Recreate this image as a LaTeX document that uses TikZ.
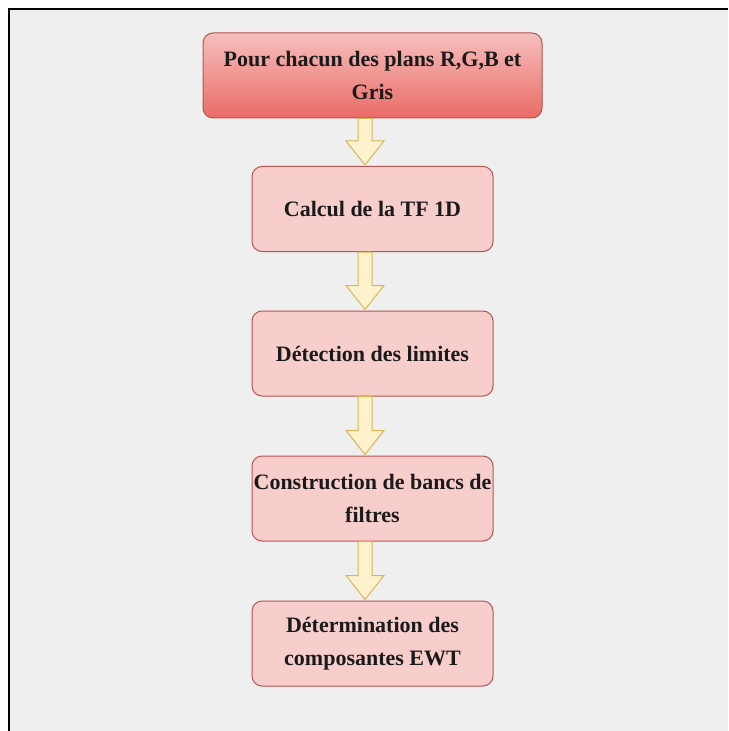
\documentclass[tikz,border=0pt]{standalone}
\usepackage{fontspec}
\setmainfont{Liberation Serif}
\usepackage{xcolor}
\usepackage{tikz}
\usetikzlibrary{calc,positioning}
\definecolor{pagebg}{HTML}{EFEFEF}
\definecolor{pinkx}{HTML}{F8CECC}
\definecolor{redx}{HTML}{EA6B66}
\definecolor{edgex}{HTML}{B85450}
\definecolor{yelx}{HTML}{FFF2CC}
\definecolor{goldx}{HTML}{D6B656}
\definecolor{inkx}{HTML}{1A1A1A}
\tikzset{
  stage/.style={draw=edgex,line width=0.75pt,rounded corners=7.5pt,fill=pinkx,align=center,
    inner sep=0pt,minimum width=180.75pt,minimum height=63.75pt,text=inkx,
    font=\fontsize{16.5}{24.75}\selectfont\bfseries},
  topstage/.style={stage,minimum width=254.25pt,top color=pinkx!85!redx,bottom color=redx},
  flow/.style={draw=goldx,line width=0.75pt,fill=yelx,line join=miter}
}
\newcommand{\flowarrow}[2]{%
  \draw[flow] ($(#1.south)+(-14.5,0)$) -- ($(#1.south)+(-0.5,0)$)
    -- ($(#2.north)+(-0.5,-25)$) -- ($(#2.north)+(11.5,-25)$)
    -- ($(#2.north)+(-7.5,-1)$) -- ($(#2.north)+(-26.5,-25)$)
    -- ($(#2.north)+(-14.5,-25)$) -- cycle;}

\begin{document}
\begin{tikzpicture}[x=0.75pt,y=-0.75pt]
\useasboundingbox (0,0) rectangle (728,731);
\fill[white] (0,0) rectangle (728,731);
\fill[pagebg] (9,9) rectangle (728,731);
\draw[black,line width=1.5pt] (9,731) -- (9,9) -- (728,9);
% stages
\node[topstage] (plans) at (372.5,75.5) {Pour chacun des plans R,G,B et\\Gris};
\node[stage] (tf) at (372.5,209) {Calcul de la TF 1D};
\node[stage] (lim) at (372.5,353.5) {Détection des limites};
\node[stage] (banc) at (372.5,498.5) {Construction de bancs de\\filtres};
\node[stage] (ewt) at (372.5,643.5) {Détermination des\\composantes EWT};
% arrows
\flowarrow{plans}{tf}
\flowarrow{tf}{lim}
\flowarrow{lim}{banc}
\flowarrow{banc}{ewt}
\end{tikzpicture}
\end{document}
